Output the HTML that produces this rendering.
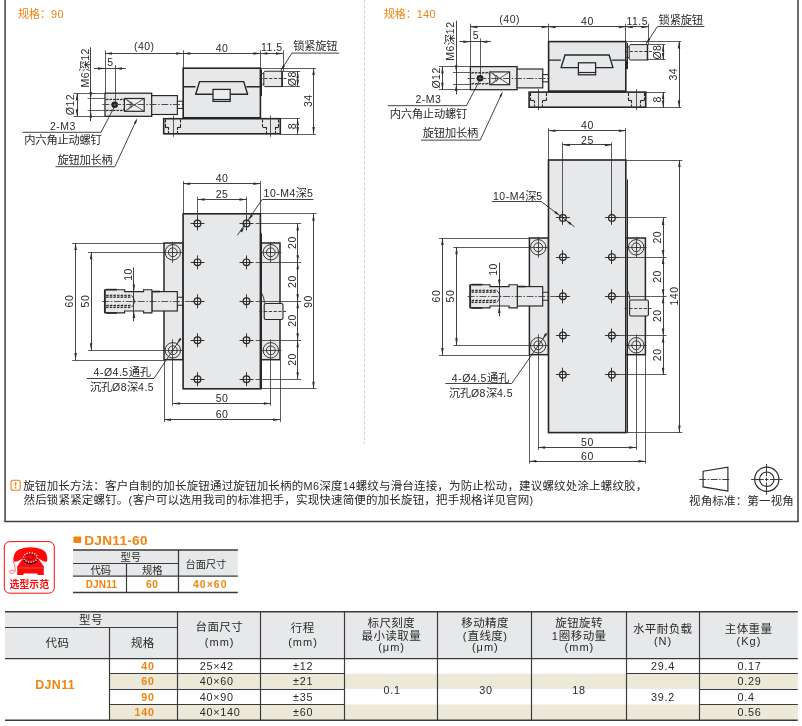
<!DOCTYPE html>
<html lang="zh-CN"><head><meta charset="utf-8"><title>DJN11</title>
<style>
html,body{margin:0;padding:0;background:#fff}
body{width:802px;height:726px;overflow:hidden;font-family:"Liberation Sans","Noto Sans CJK SC",sans-serif}
svg{display:block;will-change:transform}
svg text{font-family:"Liberation Sans","Noto Sans CJK SC",sans-serif}
</style></head><body>
<svg width="802" height="726" viewBox="0 0 802 726">
<path d="M5.1 0V521.5M798 0V521.5" fill="none" stroke="#655d5d" stroke-width="1.8"/>
<path d="M4.2 521.5H798.9" fill="none" stroke="#463e3e" stroke-width="1.4"/>
<line x1="364.5" y1="0" x2="364.5" y2="444" stroke="#c2c2c2" stroke-width="0.81" stroke-dasharray="3.2 2"/>
<g transform="translate(18 18.3)" fill="#f18410" aria-label="规格：90"><text x="0" y="0" font-size="11">规格：</text><text x="33" y="0" font-size="11" letter-spacing="0.3">90</text></g>
<g transform="translate(383.7 18.3)" fill="#f18410" aria-label="规格：140"><text x="0" y="0" font-size="11">规格：</text><text x="33" y="0" font-size="11" letter-spacing="0.3">140</text></g>
<rect x="105" y="93.2" width="46.7" height="23.1" fill="#e7e8ea" stroke="#262626" stroke-width="1.26"/>
<rect x="151.7" y="95.6" width="25.7" height="18.9" fill="#e7e8ea" stroke="#262626" stroke-width="1.15"/>
<rect x="177.4" y="101.2" width="5.8" height="7.2" fill="#fff" stroke="#262626" stroke-width="1.04"/>
<line x1="87.6" y1="98.5" x2="105" y2="98.5" stroke="#2e2e2e" stroke-width="0.78"/>
<line x1="87.6" y1="110.5" x2="105" y2="110.5" stroke="#2e2e2e" stroke-width="0.78"/>
<path d="M106 99.75l2.51 -0.7M109.48 99.75l2.51 -0.7M112.96 99.75l2.51 -0.7M116.44 99.75l2.51 -0.7M119.92 99.75l2.51 -0.7" fill="none" stroke="#262626" stroke-width="1.2"/>
<path d="M106 110.75l2.51 -0.7M109.48 110.75l2.51 -0.7M112.96 110.75l2.51 -0.7M116.44 110.75l2.51 -0.7M119.92 110.75l2.51 -0.7" fill="none" stroke="#262626" stroke-width="1.2"/>
<path d="M123.2 99.2L125.6 104.8 L123.2 110.6" fill="none" stroke="#2e2e2e" stroke-width="0.78"/>
<circle cx="114.7" cy="104.8" r="3.3" fill="#1d1d1d"/>
<circle cx="114.7" cy="104.8" r="1.2" fill="#6a6a6a"/>
<rect x="124.4" y="98.5" width="19.8" height="12.8" fill="#eeeff0" stroke="#262626" stroke-width="1.17"/>
<path d="M124.4 98.5L144.2 111.3M144.2 98.5L124.4 111.3" fill="none" stroke="#2e2e2e" stroke-width="0.78"/>
<path d="M127.5 99.5Q133.5 104.8 127.5 110.3M131 101.5Q133.4 104.8 131 108.2" fill="none" stroke="#2e2e2e" stroke-width="0.72"/>
<line x1="102.3" y1="104.5" x2="186" y2="104.5" stroke="#444" stroke-width="0.94" stroke-dasharray="7 1.6 1.6 1.6"/>
<line x1="90.5" y1="47.3" x2="90.5" y2="121" stroke="#2e2e2e" stroke-width="0.91"/>
<path d="M90.8 98.9L89.55 91.9L92.05 91.9Z" fill="#2e2e2e"/>
<path d="M90.8 110.7L92.05 117.7L89.55 117.7Z" fill="#2e2e2e"/>
<g transform="translate(88.9 68) rotate(-90)" fill="#2a2a2a" aria-label="M6深12"><text x="-19.41" y="0" font-size="10.5" letter-spacing="0.5">M6</text><text x="-3.82" y="0" font-size="11.3">深</text><text x="7.23" y="0" font-size="10.5" letter-spacing="0.5">12</text></g>
<line x1="73.5" y1="93.5" x2="105" y2="93.5" stroke="#2e2e2e" stroke-width="0.78"/>
<line x1="73.5" y1="116.5" x2="105" y2="116.5" stroke="#2e2e2e" stroke-width="0.78"/>
<line x1="77.5" y1="93.2" x2="77.5" y2="116.3" stroke="#2e2e2e" stroke-width="0.91"/>
<path d="M77 93.2L78.25 100.2L75.75 100.2Z" fill="#2e2e2e"/>
<path d="M77 116.3L75.75 109.3L78.25 109.3Z" fill="#2e2e2e"/>
<g transform="translate(74.2 104.8) rotate(-90)" fill="#2a2a2a"><text x="-10.42" y="0" font-size="10.5" letter-spacing="0.5">Ø12</text></g>
<line x1="105.5" y1="50.3" x2="105.5" y2="93.2" stroke="#2e2e2e" stroke-width="0.78"/>
<line x1="115.5" y1="65" x2="115.5" y2="104.8" stroke="#2e2e2e" stroke-width="0.78"/>
<line x1="94" y1="68.5" x2="125.7" y2="68.5" stroke="#2e2e2e" stroke-width="0.91"/>
<path d="M105 68.4L98 69.65L98 67.15Z" fill="#2e2e2e"/>
<path d="M115 68.4L122 67.15L122 69.65Z" fill="#2e2e2e"/>
<g transform="translate(110.2 65.8)" fill="#2a2a2a"><text x="-2.92" y="0" font-size="10.5" letter-spacing="0.5">5</text></g>
<line x1="105" y1="53.5" x2="183.2" y2="53.5" stroke="#2e2e2e" stroke-width="0.91"/>
<path d="M105 53.5L112 52.25L112 54.75Z" fill="#2e2e2e"/>
<path d="M183.2 53.5L176.2 54.75L176.2 52.25Z" fill="#2e2e2e"/>
<g transform="translate(144 49.9)" fill="#2a2a2a"><text x="-10.09" y="0" font-size="10.5" letter-spacing="0.5">(40)</text></g>
<path d="M114 107.5L101 132.3L22.5 132.3" fill="none" stroke="#2e2e2e" stroke-width="0.91"/>
<g transform="translate(50 130)" fill="#2a2a2a"><text x="0" y="0" font-size="10.5" letter-spacing="0.5">2-M3</text></g>
<g transform="translate(24.3 144.3)" fill="#2a2a2a" aria-label="内六角止动螺钉"><text x="0" y="0" font-size="11.3" letter-spacing="-0.25">内六角止动螺钉</text></g>
<path d="M136.5 120L114.8 166.7L55.5 166.7" fill="none" stroke="#2e2e2e" stroke-width="0.91"/>
<path d="M137.4 118L135.86 123.9L133.87 122.97Z" fill="#2e2e2e"/>
<g transform="translate(57.4 163.6)" fill="#2a2a2a" aria-label="旋钮加长柄"><text x="0" y="0" font-size="11.3" letter-spacing="-0.25">旋钮加长柄</text></g>
<line x1="183.5" y1="50.3" x2="183.5" y2="68" stroke="#2e2e2e" stroke-width="0.78"/>
<line x1="260.5" y1="50.3" x2="260.5" y2="68" stroke="#2e2e2e" stroke-width="0.78"/>
<rect x="183.2" y="68.2" width="77.2" height="49.6" fill="#e7e8ea" stroke="#262626" stroke-width="1.61"/>
<path d="M183.2 86.7H195.5M246.4 86.7H260.4" fill="none" stroke="#262626" stroke-width="1.38"/>
<path d="M195.7 94.2L199.6 81.6H243.7L247.6 94.2" fill="none" stroke="#262626" stroke-width="1.38" stroke-linejoin="miter"/>
<path d="M195.2 94.2H213M230.2 94.2H248.1" fill="none" stroke="#262626" stroke-width="1.38"/>
<rect x="213" y="89.4" width="17.2" height="12" fill="#ebecee" stroke="#262626" stroke-width="1.26"/>
<line x1="213" y1="99.5" x2="230.2" y2="99.5" stroke="#262626" stroke-width="1.17"/>
<line x1="183.2" y1="53.5" x2="260.4" y2="53.5" stroke="#2e2e2e" stroke-width="0.91"/>
<path d="M183.2 53.5L190.2 52.25L190.2 54.75Z" fill="#2e2e2e"/>
<path d="M260.4 53.5L253.4 54.75L253.4 52.25Z" fill="#2e2e2e"/>
<g transform="translate(221.8 51.9)" fill="#2a2a2a"><text x="-6.09" y="0" font-size="10.5" letter-spacing="0.5">40</text></g>
<rect x="163.7" y="118.7" width="116.6" height="15.1" fill="#e7e8ea" stroke="#262626" stroke-width="1.61"/>
<line x1="183.2" y1="118.2" x2="260.4" y2="118.2" stroke="#262626" stroke-width="1.84"/>
<line x1="173.5" y1="115.6" x2="173.5" y2="136.8" stroke="#2e2e2e" stroke-width="0.78"/>
<line x1="165.5" y1="119.6" x2="165.5" y2="127.3" stroke="#262626" stroke-width="1.1" stroke-dasharray="3 1.5"/>
<line x1="165.1" y1="127.5" x2="168.7" y2="127.5" stroke="#262626" stroke-width="1.1"/>
<line x1="168.5" y1="127.3" x2="168.5" y2="133.2" stroke="#262626" stroke-width="1.1" stroke-dasharray="2.6 1.2"/>
<line x1="180.5" y1="119.6" x2="180.5" y2="127.3" stroke="#262626" stroke-width="1.1" stroke-dasharray="3 1.5"/>
<line x1="180.9" y1="127.5" x2="177.3" y2="127.5" stroke="#262626" stroke-width="1.1"/>
<line x1="177.5" y1="127.3" x2="177.5" y2="133.2" stroke="#262626" stroke-width="1.1" stroke-dasharray="2.6 1.2"/>
<line x1="270.5" y1="115.6" x2="270.5" y2="136.8" stroke="#2e2e2e" stroke-width="0.78"/>
<line x1="262.5" y1="119.6" x2="262.5" y2="127.3" stroke="#262626" stroke-width="1.1" stroke-dasharray="3 1.5"/>
<line x1="262.8" y1="127.5" x2="266.4" y2="127.5" stroke="#262626" stroke-width="1.1"/>
<line x1="266.5" y1="127.3" x2="266.5" y2="133.2" stroke="#262626" stroke-width="1.1" stroke-dasharray="2.6 1.2"/>
<line x1="278.5" y1="119.6" x2="278.5" y2="127.3" stroke="#262626" stroke-width="1.1" stroke-dasharray="3 1.5"/>
<line x1="278.6" y1="127.5" x2="275" y2="127.5" stroke="#262626" stroke-width="1.1"/>
<line x1="275.5" y1="127.3" x2="275.5" y2="133.2" stroke="#262626" stroke-width="1.1" stroke-dasharray="2.6 1.2"/>
<line x1="261.5" y1="69.5" x2="261.5" y2="95.7" stroke="#262626" stroke-width="1.04"/>
<line x1="260.9" y1="87" x2="260.9" y2="95.7" stroke="#262626" stroke-width="1.38"/>
<path d="M260.4 73.6H263.8M260.4 84.2H263.8" fill="none" stroke="#2e2e2e" stroke-width="0.91"/>
<path d="M264.8 71.2H282.1V86.6H264.8L263.8 85.6V72.2Z" fill="#e7e8ea" stroke="#262626" stroke-width="1"/>
<line x1="282.1" y1="70.8" x2="282.1" y2="87" stroke="#262626" stroke-width="1.49"/>
<line x1="259.5" y1="78.5" x2="286.5" y2="78.5" stroke="#2e2e2e" stroke-width="0.91" stroke-dasharray="3.2 1.6"/>
<line x1="283.5" y1="50.3" x2="283.5" y2="71.2" stroke="#2e2e2e" stroke-width="0.78"/>
<line x1="260.4" y1="53.5" x2="283" y2="53.5" stroke="#2e2e2e" stroke-width="0.91"/>
<path d="M260.4 53.5L267.4 52.25L267.4 54.75Z" fill="#2e2e2e"/>
<path d="M283 53.5L276 54.75L276 52.25Z" fill="#2e2e2e"/>
<g transform="translate(272 51.4)" fill="#2a2a2a"><text x="-10.97" y="0" font-size="10.5" letter-spacing="0.5">11.5</text></g>
<path d="M339 53.1H292L280.8 70.4" fill="none" stroke="#2e2e2e" stroke-width="0.91"/>
<path d="M280.8 70.4L283.05 64.71L285.07 66.02Z" fill="#2e2e2e"/>
<g transform="translate(293.2 50.4)" fill="#2a2a2a" aria-label="锁紧旋钮"><text x="0" y="0" font-size="11.3" letter-spacing="-0.25">锁紧旋钮</text></g>
<line x1="282.1" y1="71.5" x2="300" y2="71.5" stroke="#2e2e2e" stroke-width="0.78"/>
<line x1="282.1" y1="86.5" x2="300" y2="86.5" stroke="#2e2e2e" stroke-width="0.78"/>
<line x1="297.5" y1="71.2" x2="297.5" y2="86.6" stroke="#2e2e2e" stroke-width="0.91"/>
<path d="M297.7 71.2L298.95 78.2L296.45 78.2Z" fill="#2e2e2e"/>
<path d="M297.7 86.6L296.45 79.6L298.95 79.6Z" fill="#2e2e2e"/>
<g transform="translate(295.9 78.9) rotate(-90)" fill="#2a2a2a"><text x="-7.25" y="0" font-size="10.5" letter-spacing="0.5">Ø8</text></g>
<line x1="260.4" y1="68.5" x2="315.8" y2="68.5" stroke="#2e2e2e" stroke-width="0.78"/>
<line x1="280.3" y1="134.5" x2="315.8" y2="134.5" stroke="#2e2e2e" stroke-width="0.78"/>
<line x1="313.5" y1="68" x2="313.5" y2="134.1" stroke="#2e2e2e" stroke-width="0.91"/>
<path d="M313.6 68L314.85 75L312.35 75Z" fill="#2e2e2e"/>
<path d="M313.6 134.1L312.35 127.1L314.85 127.1Z" fill="#2e2e2e"/>
<g transform="translate(311.7 101) rotate(-90)" fill="#2a2a2a"><text x="-6.09" y="0" font-size="10.5" letter-spacing="0.5">34</text></g>
<line x1="280.3" y1="118.5" x2="300" y2="118.5" stroke="#2e2e2e" stroke-width="0.78"/>
<line x1="297.5" y1="118.6" x2="297.5" y2="134.1" stroke="#2e2e2e" stroke-width="0.91"/>
<path d="M297.7 118.6L298.95 125.6L296.45 125.6Z" fill="#2e2e2e"/>
<path d="M297.7 134.1L296.45 127.1L298.95 127.1Z" fill="#2e2e2e"/>
<g transform="translate(295.9 126.3) rotate(-90)" fill="#2a2a2a"><text x="-2.92" y="0" font-size="10.5" letter-spacing="0.5">8</text></g>
<g transform="translate(365.4 -26.6)">
<rect x="105" y="93.2" width="46.7" height="23.1" fill="#e7e8ea" stroke="#262626" stroke-width="1.26"/>
<rect x="151.7" y="95.6" width="25.7" height="18.9" fill="#e7e8ea" stroke="#262626" stroke-width="1.15"/>
<rect x="177.4" y="101.2" width="5.8" height="7.2" fill="#fff" stroke="#262626" stroke-width="1.04"/>
<line x1="87.6" y1="99.1" x2="105" y2="99.1" stroke="#2e2e2e" stroke-width="0.78"/>
<line x1="87.6" y1="111.1" x2="105" y2="111.1" stroke="#2e2e2e" stroke-width="0.78"/>
<path d="M106 99.75l2.51 -0.7M109.48 99.75l2.51 -0.7M112.96 99.75l2.51 -0.7M116.44 99.75l2.51 -0.7M119.92 99.75l2.51 -0.7" fill="none" stroke="#262626" stroke-width="1.2"/>
<path d="M106 110.75l2.51 -0.7M109.48 110.75l2.51 -0.7M112.96 110.75l2.51 -0.7M116.44 110.75l2.51 -0.7M119.92 110.75l2.51 -0.7" fill="none" stroke="#262626" stroke-width="1.2"/>
<path d="M123.2 99.2L125.6 104.8 L123.2 110.6" fill="none" stroke="#2e2e2e" stroke-width="0.78"/>
<circle cx="114.7" cy="104.8" r="3.3" fill="#1d1d1d"/>
<circle cx="114.7" cy="104.8" r="1.2" fill="#6a6a6a"/>
<rect x="124.4" y="98.5" width="19.8" height="12.8" fill="#eeeff0" stroke="#262626" stroke-width="1.17"/>
<path d="M124.4 98.5L144.2 111.3M144.2 98.5L124.4 111.3" fill="none" stroke="#2e2e2e" stroke-width="0.78"/>
<path d="M127.5 99.5Q133.5 104.8 127.5 110.3M131 101.5Q133.4 104.8 131 108.2" fill="none" stroke="#2e2e2e" stroke-width="0.72"/>
<line x1="102.3" y1="105.1" x2="186" y2="105.1" stroke="#444" stroke-width="0.94" stroke-dasharray="7 1.6 1.6 1.6"/>
<line x1="91.1" y1="47.3" x2="91.1" y2="121" stroke="#2e2e2e" stroke-width="0.91"/>
<path d="M90.8 98.9L89.55 91.9L92.05 91.9Z" fill="#2e2e2e"/>
<path d="M90.8 110.7L92.05 117.7L89.55 117.7Z" fill="#2e2e2e"/>
<g transform="translate(88.9 68) rotate(-90)" fill="#2a2a2a" aria-label="M6深12"><text x="-19.41" y="0" font-size="10.5" letter-spacing="0.5">M6</text><text x="-3.82" y="0" font-size="11.3">深</text><text x="7.23" y="0" font-size="10.5" letter-spacing="0.5">12</text></g>
<line x1="73.5" y1="93.1" x2="105" y2="93.1" stroke="#2e2e2e" stroke-width="0.78"/>
<line x1="73.5" y1="116.1" x2="105" y2="116.1" stroke="#2e2e2e" stroke-width="0.78"/>
<line x1="77.1" y1="93.2" x2="77.1" y2="116.3" stroke="#2e2e2e" stroke-width="0.91"/>
<path d="M77 93.2L78.25 100.2L75.75 100.2Z" fill="#2e2e2e"/>
<path d="M77 116.3L75.75 109.3L78.25 109.3Z" fill="#2e2e2e"/>
<g transform="translate(74.2 104.8) rotate(-90)" fill="#2a2a2a"><text x="-10.42" y="0" font-size="10.5" letter-spacing="0.5">Ø12</text></g>
<line x1="105.1" y1="50.3" x2="105.1" y2="93.2" stroke="#2e2e2e" stroke-width="0.78"/>
<line x1="115.1" y1="65" x2="115.1" y2="104.8" stroke="#2e2e2e" stroke-width="0.78"/>
<line x1="94" y1="68.1" x2="125.7" y2="68.1" stroke="#2e2e2e" stroke-width="0.91"/>
<path d="M105 68.4L98 69.65L98 67.15Z" fill="#2e2e2e"/>
<path d="M115 68.4L122 67.15L122 69.65Z" fill="#2e2e2e"/>
<g transform="translate(110.2 65.8)" fill="#2a2a2a"><text x="-2.92" y="0" font-size="10.5" letter-spacing="0.5">5</text></g>
<line x1="105" y1="53.1" x2="183.2" y2="53.1" stroke="#2e2e2e" stroke-width="0.91"/>
<path d="M105 53.5L112 52.25L112 54.75Z" fill="#2e2e2e"/>
<path d="M183.2 53.5L176.2 54.75L176.2 52.25Z" fill="#2e2e2e"/>
<g transform="translate(144 49.9)" fill="#2a2a2a"><text x="-10.09" y="0" font-size="10.5" letter-spacing="0.5">(40)</text></g>
<path d="M114 107.5L101 132.3L22.5 132.3" fill="none" stroke="#2e2e2e" stroke-width="0.91"/>
<g transform="translate(50 130)" fill="#2a2a2a"><text x="0" y="0" font-size="10.5" letter-spacing="0.5">2-M3</text></g>
<g transform="translate(24.3 144.3)" fill="#2a2a2a" aria-label="内六角止动螺钉"><text x="0" y="0" font-size="11.3" letter-spacing="-0.25">内六角止动螺钉</text></g>
<path d="M136.5 120L114.8 166.7L55.5 166.7" fill="none" stroke="#2e2e2e" stroke-width="0.91"/>
<path d="M137.4 118L135.86 123.9L133.87 122.97Z" fill="#2e2e2e"/>
<g transform="translate(57.4 163.6)" fill="#2a2a2a" aria-label="旋钮加长柄"><text x="0" y="0" font-size="11.3" letter-spacing="-0.25">旋钮加长柄</text></g>
<line x1="183.1" y1="50.3" x2="183.1" y2="68" stroke="#2e2e2e" stroke-width="0.78"/>
<line x1="260.1" y1="50.3" x2="260.1" y2="68" stroke="#2e2e2e" stroke-width="0.78"/>
<rect x="183.2" y="68.2" width="77.2" height="49.6" fill="#e7e8ea" stroke="#262626" stroke-width="1.61"/>
<path d="M183.2 86.7H195.5M246.4 86.7H260.4" fill="none" stroke="#262626" stroke-width="1.38"/>
<path d="M195.7 94.2L199.6 81.6H243.7L247.6 94.2" fill="none" stroke="#262626" stroke-width="1.38" stroke-linejoin="miter"/>
<path d="M195.2 94.2H213M230.2 94.2H248.1" fill="none" stroke="#262626" stroke-width="1.38"/>
<rect x="213" y="89.4" width="17.2" height="12" fill="#ebecee" stroke="#262626" stroke-width="1.26"/>
<line x1="213" y1="99.1" x2="230.2" y2="99.1" stroke="#262626" stroke-width="1.17"/>
<line x1="183.2" y1="53.1" x2="260.4" y2="53.1" stroke="#2e2e2e" stroke-width="0.91"/>
<path d="M183.2 53.5L190.2 52.25L190.2 54.75Z" fill="#2e2e2e"/>
<path d="M260.4 53.5L253.4 54.75L253.4 52.25Z" fill="#2e2e2e"/>
<g transform="translate(221.8 51.9)" fill="#2a2a2a"><text x="-6.09" y="0" font-size="10.5" letter-spacing="0.5">40</text></g>
<rect x="163.7" y="118.7" width="116.6" height="15.1" fill="#e7e8ea" stroke="#262626" stroke-width="1.61"/>
<line x1="183.2" y1="118.2" x2="260.4" y2="118.2" stroke="#262626" stroke-width="1.84"/>
<line x1="173.1" y1="115.6" x2="173.1" y2="136.8" stroke="#2e2e2e" stroke-width="0.78"/>
<line x1="165.1" y1="119.6" x2="165.1" y2="127.3" stroke="#262626" stroke-width="1.1" stroke-dasharray="3 1.5"/>
<line x1="165.1" y1="127.1" x2="168.7" y2="127.1" stroke="#262626" stroke-width="1.1"/>
<line x1="169.1" y1="127.3" x2="169.1" y2="133.2" stroke="#262626" stroke-width="1.1" stroke-dasharray="2.6 1.2"/>
<line x1="181.1" y1="119.6" x2="181.1" y2="127.3" stroke="#262626" stroke-width="1.1" stroke-dasharray="3 1.5"/>
<line x1="180.9" y1="127.1" x2="177.3" y2="127.1" stroke="#262626" stroke-width="1.1"/>
<line x1="177.1" y1="127.3" x2="177.1" y2="133.2" stroke="#262626" stroke-width="1.1" stroke-dasharray="2.6 1.2"/>
<line x1="271.1" y1="115.6" x2="271.1" y2="136.8" stroke="#2e2e2e" stroke-width="0.78"/>
<line x1="263.1" y1="119.6" x2="263.1" y2="127.3" stroke="#262626" stroke-width="1.1" stroke-dasharray="3 1.5"/>
<line x1="262.8" y1="127.1" x2="266.4" y2="127.1" stroke="#262626" stroke-width="1.1"/>
<line x1="266.1" y1="127.3" x2="266.1" y2="133.2" stroke="#262626" stroke-width="1.1" stroke-dasharray="2.6 1.2"/>
<line x1="279.1" y1="119.6" x2="279.1" y2="127.3" stroke="#262626" stroke-width="1.1" stroke-dasharray="3 1.5"/>
<line x1="278.6" y1="127.1" x2="275" y2="127.1" stroke="#262626" stroke-width="1.1"/>
<line x1="275.1" y1="127.3" x2="275.1" y2="133.2" stroke="#262626" stroke-width="1.1" stroke-dasharray="2.6 1.2"/>
<line x1="262.1" y1="69.5" x2="262.1" y2="95.7" stroke="#262626" stroke-width="1.04"/>
<line x1="260.9" y1="87" x2="260.9" y2="95.7" stroke="#262626" stroke-width="1.38"/>
<path d="M260.4 73.6H263.8M260.4 84.2H263.8" fill="none" stroke="#2e2e2e" stroke-width="0.91"/>
<path d="M264.8 71.2H282.1V86.6H264.8L263.8 85.6V72.2Z" fill="#e7e8ea" stroke="#262626" stroke-width="1"/>
<line x1="282.1" y1="70.8" x2="282.1" y2="87" stroke="#262626" stroke-width="1.49"/>
<line x1="259.5" y1="78.1" x2="286.5" y2="78.1" stroke="#2e2e2e" stroke-width="0.91" stroke-dasharray="3.2 1.6"/>
<line x1="283.1" y1="50.3" x2="283.1" y2="71.2" stroke="#2e2e2e" stroke-width="0.78"/>
<line x1="260.4" y1="53.1" x2="283" y2="53.1" stroke="#2e2e2e" stroke-width="0.91"/>
<path d="M260.4 53.5L267.4 52.25L267.4 54.75Z" fill="#2e2e2e"/>
<path d="M283 53.5L276 54.75L276 52.25Z" fill="#2e2e2e"/>
<g transform="translate(272 51.4)" fill="#2a2a2a"><text x="-10.97" y="0" font-size="10.5" letter-spacing="0.5">11.5</text></g>
<path d="M339 53.1H292L280.8 70.4" fill="none" stroke="#2e2e2e" stroke-width="0.91"/>
<path d="M280.8 70.4L283.05 64.71L285.07 66.02Z" fill="#2e2e2e"/>
<g transform="translate(293.2 50.4)" fill="#2a2a2a" aria-label="锁紧旋钮"><text x="0" y="0" font-size="11.3" letter-spacing="-0.25">锁紧旋钮</text></g>
<line x1="282.1" y1="71.1" x2="300" y2="71.1" stroke="#2e2e2e" stroke-width="0.78"/>
<line x1="282.1" y1="86.1" x2="300" y2="86.1" stroke="#2e2e2e" stroke-width="0.78"/>
<line x1="298.1" y1="71.2" x2="298.1" y2="86.6" stroke="#2e2e2e" stroke-width="0.91"/>
<path d="M297.7 71.2L298.95 78.2L296.45 78.2Z" fill="#2e2e2e"/>
<path d="M297.7 86.6L296.45 79.6L298.95 79.6Z" fill="#2e2e2e"/>
<g transform="translate(295.9 78.9) rotate(-90)" fill="#2a2a2a"><text x="-7.25" y="0" font-size="10.5" letter-spacing="0.5">Ø8</text></g>
<line x1="260.4" y1="68.1" x2="315.8" y2="68.1" stroke="#2e2e2e" stroke-width="0.78"/>
<line x1="280.3" y1="134.1" x2="315.8" y2="134.1" stroke="#2e2e2e" stroke-width="0.78"/>
<line x1="314.1" y1="68" x2="314.1" y2="134.1" stroke="#2e2e2e" stroke-width="0.91"/>
<path d="M313.6 68L314.85 75L312.35 75Z" fill="#2e2e2e"/>
<path d="M313.6 134.1L312.35 127.1L314.85 127.1Z" fill="#2e2e2e"/>
<g transform="translate(311.7 101) rotate(-90)" fill="#2a2a2a"><text x="-6.09" y="0" font-size="10.5" letter-spacing="0.5">34</text></g>
<line x1="280.3" y1="119.1" x2="300" y2="119.1" stroke="#2e2e2e" stroke-width="0.78"/>
<line x1="298.1" y1="118.6" x2="298.1" y2="134.1" stroke="#2e2e2e" stroke-width="0.91"/>
<path d="M297.7 118.6L298.95 125.6L296.45 125.6Z" fill="#2e2e2e"/>
<path d="M297.7 134.1L296.45 127.1L298.95 127.1Z" fill="#2e2e2e"/>
<g transform="translate(295.9 126.3) rotate(-90)" fill="#2a2a2a"><text x="-2.92" y="0" font-size="10.5" letter-spacing="0.5">8</text></g>
</g>
<rect x="164" y="243" width="19.1" height="116.7" fill="#e7e8ea" stroke="#262626" stroke-width="1.49"/>
<rect x="259" y="243" width="21" height="116.7" fill="#e7e8ea" stroke="#262626" stroke-width="1.49"/>
<rect x="183.1" y="213.8" width="77.3" height="175" fill="#e7e8ea" stroke="#262626" stroke-width="1.61"/>
<line x1="261.5" y1="233.3" x2="261.5" y2="389.3" stroke="#262626" stroke-width="1.04"/>
<rect x="151.9" y="291.6" width="25.4" height="19.4" fill="#e7e8ea" stroke="#262626" stroke-width="1.15"/>
<path d="M104.8 289.7L124.6 289.7L124.6 291.6L143.6 291.6L143.6 289.7L151.9 289.7L151.9 312.9L143.6 312.9L143.6 311L124.6 311L124.6 312.9L104.8 312.9Z" fill="#e7e8ea" stroke="#262626" stroke-width="1.15" stroke-linejoin="miter"/>
<line x1="104.8" y1="289.7" x2="104.8" y2="312.9" stroke="#262626" stroke-width="1.72"/>
<line x1="106" y1="289.6" x2="117" y2="289.6" stroke="#262626" stroke-width="1.61"/>
<line x1="106" y1="313" x2="117" y2="313" stroke="#262626" stroke-width="1.61"/>
<line x1="153" y1="291.5" x2="160" y2="291.5" stroke="#262626" stroke-width="1.61"/>
<path d="M177.3 297.3H183.1M177.3 305.3H183.1" fill="none" stroke="#262626" stroke-width="1.04"/>
<path d="M106.2 295.6l2.53 -0.6M109.81 295.6l2.53 -0.6M113.43 295.6l2.53 -0.6M117.04 295.6l2.53 -0.6M120.66 295.6l2.53 -0.6M124.27 295.6l2.53 -0.6M127.89 295.6l2.53 -0.6" fill="none" stroke="#262626" stroke-width="1.2"/>
<path d="M106.2 297.4l2.53 -0.6M109.81 297.4l2.53 -0.6M113.43 297.4l2.53 -0.6M117.04 297.4l2.53 -0.6M120.66 297.4l2.53 -0.6M124.27 297.4l2.53 -0.6M127.89 297.4l2.53 -0.6" fill="none" stroke="#262626" stroke-width="1.2"/>
<path d="M106.2 305.8l2.53 -0.6M109.81 305.8l2.53 -0.6M113.43 305.8l2.53 -0.6M117.04 305.8l2.53 -0.6M120.66 305.8l2.53 -0.6M124.27 305.8l2.53 -0.6M127.89 305.8l2.53 -0.6" fill="none" stroke="#262626" stroke-width="1.2"/>
<path d="M106.2 307.6l2.53 -0.6M109.81 307.6l2.53 -0.6M113.43 307.6l2.53 -0.6M117.04 307.6l2.53 -0.6M120.66 307.6l2.53 -0.6M124.27 307.6l2.53 -0.6M127.89 307.6l2.53 -0.6" fill="none" stroke="#262626" stroke-width="1.2"/>
<path d="M131.5 295.4Q134.3 298.3 134.6 301.3Q134.3 304.3 131.5 307.2" fill="none" stroke="#2e2e2e" stroke-width="0.91"/>
<line x1="102.2" y1="301.5" x2="190.5" y2="301.5" stroke="#2e2e2e" stroke-width="0.78" stroke-dasharray="7 1.6 1.6 1.6"/>
<line x1="133.5" y1="267.5" x2="133.5" y2="321.3" stroke="#2e2e2e" stroke-width="0.91"/>
<path d="M133.9 291.6L132.65 284.6L135.15 284.6Z" fill="#2e2e2e"/>
<path d="M133.9 311L135.15 318L132.65 318Z" fill="#2e2e2e"/>
<g transform="translate(131.9 274.7) rotate(-90)" fill="#2a2a2a"><text x="-6.09" y="0" font-size="10.5" letter-spacing="0.5">10</text></g>
<circle cx="197.5" cy="223.4" r="3.35" fill="none" stroke="#262626" stroke-width="1.24"/>
<line x1="190.5" y1="223.5" x2="204.5" y2="223.5" stroke="#262626" stroke-width="0.94"/>
<line x1="197.5" y1="216.4" x2="197.5" y2="230.4" stroke="#262626" stroke-width="0.94"/>
<circle cx="246.5" cy="223.4" r="3.35" fill="none" stroke="#262626" stroke-width="1.24"/>
<line x1="239.5" y1="223.5" x2="253.5" y2="223.5" stroke="#262626" stroke-width="0.94"/>
<line x1="246.5" y1="216.4" x2="246.5" y2="230.4" stroke="#262626" stroke-width="0.94"/>
<circle cx="197.5" cy="262.35" r="3.35" fill="none" stroke="#262626" stroke-width="1.24"/>
<line x1="190.5" y1="262.5" x2="204.5" y2="262.5" stroke="#262626" stroke-width="0.94"/>
<line x1="197.5" y1="255.35" x2="197.5" y2="269.35" stroke="#262626" stroke-width="0.94"/>
<circle cx="246.5" cy="262.35" r="3.35" fill="none" stroke="#262626" stroke-width="1.24"/>
<line x1="239.5" y1="262.5" x2="253.5" y2="262.5" stroke="#262626" stroke-width="0.94"/>
<line x1="246.5" y1="255.35" x2="246.5" y2="269.35" stroke="#262626" stroke-width="0.94"/>
<circle cx="197.5" cy="301.3" r="3.35" fill="none" stroke="#262626" stroke-width="1.24"/>
<line x1="190.5" y1="301.5" x2="204.5" y2="301.5" stroke="#262626" stroke-width="0.94"/>
<line x1="197.5" y1="294.3" x2="197.5" y2="308.3" stroke="#262626" stroke-width="0.94"/>
<circle cx="246.5" cy="301.3" r="3.35" fill="none" stroke="#262626" stroke-width="1.24"/>
<line x1="239.5" y1="301.5" x2="253.5" y2="301.5" stroke="#262626" stroke-width="0.94"/>
<line x1="246.5" y1="294.3" x2="246.5" y2="308.3" stroke="#262626" stroke-width="0.94"/>
<circle cx="197.5" cy="340.25" r="3.35" fill="none" stroke="#262626" stroke-width="1.24"/>
<line x1="190.5" y1="340.5" x2="204.5" y2="340.5" stroke="#262626" stroke-width="0.94"/>
<line x1="197.5" y1="333.25" x2="197.5" y2="347.25" stroke="#262626" stroke-width="0.94"/>
<circle cx="246.5" cy="340.25" r="3.35" fill="none" stroke="#262626" stroke-width="1.24"/>
<line x1="239.5" y1="340.5" x2="253.5" y2="340.5" stroke="#262626" stroke-width="0.94"/>
<line x1="246.5" y1="333.25" x2="246.5" y2="347.25" stroke="#262626" stroke-width="0.94"/>
<circle cx="197.5" cy="379.2" r="3.35" fill="none" stroke="#262626" stroke-width="1.24"/>
<line x1="190.5" y1="379.5" x2="204.5" y2="379.5" stroke="#262626" stroke-width="0.94"/>
<line x1="197.5" y1="372.2" x2="197.5" y2="386.2" stroke="#262626" stroke-width="0.94"/>
<circle cx="246.5" cy="379.2" r="3.35" fill="none" stroke="#262626" stroke-width="1.24"/>
<line x1="239.5" y1="379.5" x2="253.5" y2="379.5" stroke="#262626" stroke-width="0.94"/>
<line x1="246.5" y1="372.2" x2="246.5" y2="386.2" stroke="#262626" stroke-width="0.94"/>
<circle cx="172.8" cy="252.3" r="7.7" fill="none" stroke="#262626" stroke-width="0.91"/>
<circle cx="172.8" cy="252.3" r="4.4" fill="none" stroke="#262626" stroke-width="0.91"/>
<line x1="170.6" y1="252.5" x2="175" y2="252.5" stroke="#2e2e2e" stroke-width="0.65"/>
<line x1="172.5" y1="250.1" x2="172.5" y2="254.5" stroke="#2e2e2e" stroke-width="0.65"/>
<circle cx="172.8" cy="350.3" r="7.7" fill="none" stroke="#262626" stroke-width="0.91"/>
<circle cx="172.8" cy="350.3" r="4.4" fill="none" stroke="#262626" stroke-width="0.91"/>
<line x1="170.6" y1="350.5" x2="175" y2="350.5" stroke="#2e2e2e" stroke-width="0.65"/>
<line x1="172.5" y1="348.1" x2="172.5" y2="352.5" stroke="#2e2e2e" stroke-width="0.65"/>
<circle cx="270.8" cy="252.3" r="7.7" fill="none" stroke="#262626" stroke-width="0.91"/>
<circle cx="270.8" cy="252.3" r="4.4" fill="none" stroke="#262626" stroke-width="0.91"/>
<line x1="268.6" y1="252.5" x2="273" y2="252.5" stroke="#2e2e2e" stroke-width="0.65"/>
<line x1="270.5" y1="250.1" x2="270.5" y2="254.5" stroke="#2e2e2e" stroke-width="0.65"/>
<circle cx="270.8" cy="350.3" r="7.7" fill="none" stroke="#262626" stroke-width="0.91"/>
<circle cx="270.8" cy="350.3" r="4.4" fill="none" stroke="#262626" stroke-width="0.91"/>
<line x1="268.6" y1="350.5" x2="273" y2="350.5" stroke="#2e2e2e" stroke-width="0.65"/>
<line x1="270.5" y1="348.1" x2="270.5" y2="352.5" stroke="#2e2e2e" stroke-width="0.65"/>
<path d="M261.9 293.5Q264.3 297.5 264.4 303.2" fill="none" stroke="#262626" stroke-width="0.91"/>
<rect x="264.2" y="303.5" width="18.8" height="16" rx="1.6" fill="#e7e8ea" stroke="#262626" stroke-width="1.1"/>
<line x1="259.2" y1="311.5" x2="286" y2="311.5" stroke="#2e2e2e" stroke-width="0.91" stroke-dasharray="3.2 1.6"/>
<line x1="183.5" y1="181.1" x2="183.5" y2="213.8" stroke="#2e2e2e" stroke-width="0.78"/>
<line x1="260.5" y1="181.1" x2="260.5" y2="213.8" stroke="#2e2e2e" stroke-width="0.78"/>
<line x1="183.1" y1="183.5" x2="260.4" y2="183.5" stroke="#2e2e2e" stroke-width="0.91"/>
<path d="M183.1 183.7L190.1 182.45L190.1 184.95Z" fill="#2e2e2e"/>
<path d="M260.4 183.7L253.4 184.95L253.4 182.45Z" fill="#2e2e2e"/>
<g transform="translate(221.8 182.4)" fill="#2a2a2a"><text x="-6.09" y="0" font-size="10.5" letter-spacing="0.5">40</text></g>
<line x1="197.5" y1="196.8" x2="197.5" y2="223.4" stroke="#2e2e2e" stroke-width="0.78"/>
<line x1="246.5" y1="196.8" x2="246.5" y2="223.4" stroke="#2e2e2e" stroke-width="0.78"/>
<line x1="197.5" y1="199.5" x2="246.5" y2="199.5" stroke="#2e2e2e" stroke-width="0.91"/>
<path d="M197.5 199.4L204.5 198.15L204.5 200.65Z" fill="#2e2e2e"/>
<path d="M246.5 199.4L239.5 200.65L239.5 198.15Z" fill="#2e2e2e"/>
<g transform="translate(221.8 198.1)" fill="#2a2a2a"><text x="-6.09" y="0" font-size="10.5" letter-spacing="0.5">25</text></g>
<line x1="255.6" y1="223.5" x2="301.2" y2="223.5" stroke="#2e2e2e" stroke-width="0.78"/>
<line x1="255.6" y1="262.5" x2="301.2" y2="262.5" stroke="#2e2e2e" stroke-width="0.78"/>
<line x1="255.6" y1="301.5" x2="301.2" y2="301.5" stroke="#2e2e2e" stroke-width="0.78"/>
<line x1="255.6" y1="340.5" x2="301.2" y2="340.5" stroke="#2e2e2e" stroke-width="0.78"/>
<line x1="255.6" y1="379.5" x2="301.2" y2="379.5" stroke="#2e2e2e" stroke-width="0.78"/>
<line x1="297.5" y1="223.4" x2="297.5" y2="262.35" stroke="#2e2e2e" stroke-width="0.91"/>
<path d="M297.7 223.4L298.95 230.4L296.45 230.4Z" fill="#2e2e2e"/>
<path d="M297.7 262.35L296.45 255.35L298.95 255.35Z" fill="#2e2e2e"/>
<g transform="translate(295.9 242.88) rotate(-90)" fill="#2a2a2a"><text x="-6.09" y="0" font-size="10.5" letter-spacing="0.5">20</text></g>
<line x1="297.5" y1="262.35" x2="297.5" y2="301.3" stroke="#2e2e2e" stroke-width="0.91"/>
<path d="M297.7 262.35L298.95 269.35L296.45 269.35Z" fill="#2e2e2e"/>
<path d="M297.7 301.3L296.45 294.3L298.95 294.3Z" fill="#2e2e2e"/>
<g transform="translate(295.9 281.83) rotate(-90)" fill="#2a2a2a"><text x="-6.09" y="0" font-size="10.5" letter-spacing="0.5">20</text></g>
<line x1="297.5" y1="301.3" x2="297.5" y2="340.25" stroke="#2e2e2e" stroke-width="0.91"/>
<path d="M297.7 301.3L298.95 308.3L296.45 308.3Z" fill="#2e2e2e"/>
<path d="M297.7 340.25L296.45 333.25L298.95 333.25Z" fill="#2e2e2e"/>
<g transform="translate(295.9 320.77) rotate(-90)" fill="#2a2a2a"><text x="-6.09" y="0" font-size="10.5" letter-spacing="0.5">20</text></g>
<line x1="297.5" y1="340.25" x2="297.5" y2="379.2" stroke="#2e2e2e" stroke-width="0.91"/>
<path d="M297.7 340.25L298.95 347.25L296.45 347.25Z" fill="#2e2e2e"/>
<path d="M297.7 379.2L296.45 372.2L298.95 372.2Z" fill="#2e2e2e"/>
<g transform="translate(295.9 359.73) rotate(-90)" fill="#2a2a2a"><text x="-6.09" y="0" font-size="10.5" letter-spacing="0.5">20</text></g>
<line x1="260.4" y1="213.5" x2="316.5" y2="213.5" stroke="#2e2e2e" stroke-width="0.78"/>
<line x1="260.4" y1="388.5" x2="316.5" y2="388.5" stroke="#2e2e2e" stroke-width="0.78"/>
<line x1="313.5" y1="213.8" x2="313.5" y2="388.8" stroke="#2e2e2e" stroke-width="0.91"/>
<path d="M313.5 213.8L314.75 220.8L312.25 220.8Z" fill="#2e2e2e"/>
<path d="M313.5 388.8L312.25 381.8L314.75 381.8Z" fill="#2e2e2e"/>
<g transform="translate(311.6 301.7) rotate(-90)" fill="#2a2a2a"><text x="-6.09" y="0" font-size="10.5" letter-spacing="0.5">90</text></g>
<line x1="172.5" y1="339.3" x2="172.5" y2="405.8" stroke="#2e2e2e" stroke-width="0.78"/>
<line x1="270.5" y1="339.3" x2="270.5" y2="405.8" stroke="#2e2e2e" stroke-width="0.78"/>
<line x1="172.8" y1="403.5" x2="270.8" y2="403.5" stroke="#2e2e2e" stroke-width="0.91"/>
<path d="M172.8 403.4L179.8 402.15L179.8 404.65Z" fill="#2e2e2e"/>
<path d="M270.8 403.4L263.8 404.65L263.8 402.15Z" fill="#2e2e2e"/>
<g transform="translate(221.8 402.1)" fill="#2a2a2a"><text x="-6.09" y="0" font-size="10.5" letter-spacing="0.5">50</text></g>
<line x1="164.5" y1="359.7" x2="164.5" y2="422.1" stroke="#2e2e2e" stroke-width="0.78"/>
<line x1="280.5" y1="359.7" x2="280.5" y2="422.1" stroke="#2e2e2e" stroke-width="0.78"/>
<line x1="164" y1="419.5" x2="280" y2="419.5" stroke="#2e2e2e" stroke-width="0.91"/>
<path d="M164 419.7L171 418.45L171 420.95Z" fill="#2e2e2e"/>
<path d="M280 419.7L273 420.95L273 418.45Z" fill="#2e2e2e"/>
<g transform="translate(221.8 418.4)" fill="#2a2a2a"><text x="-6.09" y="0" font-size="10.5" letter-spacing="0.5">60</text></g>
<line x1="72.2" y1="243.5" x2="164" y2="243.5" stroke="#2e2e2e" stroke-width="0.78"/>
<line x1="72.2" y1="360.5" x2="164" y2="360.5" stroke="#2e2e2e" stroke-width="0.78"/>
<line x1="75.5" y1="243" x2="75.5" y2="360.1" stroke="#2e2e2e" stroke-width="0.91"/>
<path d="M75.6 243L76.85 250L74.35 250Z" fill="#2e2e2e"/>
<path d="M75.6 360.1L74.35 353.1L76.85 353.1Z" fill="#2e2e2e"/>
<g transform="translate(73.4 301.3) rotate(-90)" fill="#2a2a2a"><text x="-6.09" y="0" font-size="10.5" letter-spacing="0.5">60</text></g>
<line x1="87.9" y1="252.5" x2="183.3" y2="252.5" stroke="#2e2e2e" stroke-width="0.78"/>
<line x1="87.9" y1="350.5" x2="183.3" y2="350.5" stroke="#2e2e2e" stroke-width="0.78"/>
<line x1="91.5" y1="252.3" x2="91.5" y2="350.3" stroke="#2e2e2e" stroke-width="0.91"/>
<path d="M91.1 252.3L92.35 259.3L89.85 259.3Z" fill="#2e2e2e"/>
<path d="M91.1 350.3L89.85 343.3L92.35 343.3Z" fill="#2e2e2e"/>
<g transform="translate(88.9 301.3) rotate(-90)" fill="#2a2a2a"><text x="-6.09" y="0" font-size="10.5" letter-spacing="0.5">50</text></g>
<line x1="260.3" y1="252.5" x2="281.3" y2="252.5" stroke="#2e2e2e" stroke-width="0.78"/>
<line x1="260.3" y1="350.5" x2="281.3" y2="350.5" stroke="#2e2e2e" stroke-width="0.78"/>
<line x1="172.5" y1="241.8" x2="172.5" y2="262.8" stroke="#2e2e2e" stroke-width="0.78"/>
<line x1="270.5" y1="241.8" x2="270.5" y2="262.8" stroke="#2e2e2e" stroke-width="0.78"/>
<rect x="529.4" y="238" width="19.1" height="116.7" fill="#e7e8ea" stroke="#262626" stroke-width="1.49"/>
<rect x="624.4" y="238" width="21" height="116.7" fill="#e7e8ea" stroke="#262626" stroke-width="1.49"/>
<rect x="548.5" y="160" width="77.3" height="272.6" fill="#e7e8ea" stroke="#262626" stroke-width="1.61"/>
<line x1="627.5" y1="179.5" x2="627.5" y2="433.1" stroke="#262626" stroke-width="1.04"/>
<rect x="517.3" y="286.6" width="25.4" height="19.4" fill="#e7e8ea" stroke="#262626" stroke-width="1.15"/>
<path d="M470.2 284.7L490 284.7L490 286.6L509 286.6L509 284.7L517.3 284.7L517.3 307.9L509 307.9L509 306L490 306L490 307.9L470.2 307.9Z" fill="#e7e8ea" stroke="#262626" stroke-width="1.15" stroke-linejoin="miter"/>
<line x1="470.2" y1="284.7" x2="470.2" y2="307.9" stroke="#262626" stroke-width="1.72"/>
<line x1="471.4" y1="284.6" x2="482.4" y2="284.6" stroke="#262626" stroke-width="1.61"/>
<line x1="471.4" y1="308" x2="482.4" y2="308" stroke="#262626" stroke-width="1.61"/>
<line x1="518.4" y1="286.5" x2="525.4" y2="286.5" stroke="#262626" stroke-width="1.61"/>
<path d="M542.7 292.3H548.5M542.7 300.3H548.5" fill="none" stroke="#262626" stroke-width="1.04"/>
<path d="M471.6 290.6l2.53 -0.6M475.21 290.6l2.53 -0.6M478.83 290.6l2.53 -0.6M482.44 290.6l2.53 -0.6M486.06 290.6l2.53 -0.6M489.67 290.6l2.53 -0.6M493.29 290.6l2.53 -0.6" fill="none" stroke="#262626" stroke-width="1.2"/>
<path d="M471.6 292.4l2.53 -0.6M475.21 292.4l2.53 -0.6M478.83 292.4l2.53 -0.6M482.44 292.4l2.53 -0.6M486.06 292.4l2.53 -0.6M489.67 292.4l2.53 -0.6M493.29 292.4l2.53 -0.6" fill="none" stroke="#262626" stroke-width="1.2"/>
<path d="M471.6 300.8l2.53 -0.6M475.21 300.8l2.53 -0.6M478.83 300.8l2.53 -0.6M482.44 300.8l2.53 -0.6M486.06 300.8l2.53 -0.6M489.67 300.8l2.53 -0.6M493.29 300.8l2.53 -0.6" fill="none" stroke="#262626" stroke-width="1.2"/>
<path d="M471.6 302.6l2.53 -0.6M475.21 302.6l2.53 -0.6M478.83 302.6l2.53 -0.6M482.44 302.6l2.53 -0.6M486.06 302.6l2.53 -0.6M489.67 302.6l2.53 -0.6M493.29 302.6l2.53 -0.6" fill="none" stroke="#262626" stroke-width="1.2"/>
<path d="M496.9 290.4Q499.7 293.3 500 296.3Q499.7 299.3 496.9 302.2" fill="none" stroke="#2e2e2e" stroke-width="0.91"/>
<line x1="467.6" y1="296.5" x2="555.9" y2="296.5" stroke="#2e2e2e" stroke-width="0.78" stroke-dasharray="7 1.6 1.6 1.6"/>
<line x1="499.5" y1="262.5" x2="499.5" y2="316.3" stroke="#2e2e2e" stroke-width="0.91"/>
<path d="M499.3 286.6L498.05 279.6L500.55 279.6Z" fill="#2e2e2e"/>
<path d="M499.3 306L500.55 313L498.05 313Z" fill="#2e2e2e"/>
<g transform="translate(497.3 269.7) rotate(-90)" fill="#2a2a2a"><text x="-6.09" y="0" font-size="10.5" letter-spacing="0.5">10</text></g>
<circle cx="562.9" cy="217.9" r="3.35" fill="none" stroke="#262626" stroke-width="1.24"/>
<line x1="555.9" y1="217.5" x2="569.9" y2="217.5" stroke="#262626" stroke-width="0.94"/>
<line x1="562.5" y1="210.9" x2="562.5" y2="224.9" stroke="#262626" stroke-width="0.94"/>
<circle cx="611.9" cy="217.9" r="3.35" fill="none" stroke="#262626" stroke-width="1.24"/>
<line x1="604.9" y1="217.5" x2="618.9" y2="217.5" stroke="#262626" stroke-width="0.94"/>
<line x1="611.5" y1="210.9" x2="611.5" y2="224.9" stroke="#262626" stroke-width="0.94"/>
<circle cx="562.9" cy="257.1" r="3.35" fill="none" stroke="#262626" stroke-width="1.24"/>
<line x1="555.9" y1="257.5" x2="569.9" y2="257.5" stroke="#262626" stroke-width="0.94"/>
<line x1="562.5" y1="250.1" x2="562.5" y2="264.1" stroke="#262626" stroke-width="0.94"/>
<circle cx="611.9" cy="257.1" r="3.35" fill="none" stroke="#262626" stroke-width="1.24"/>
<line x1="604.9" y1="257.5" x2="618.9" y2="257.5" stroke="#262626" stroke-width="0.94"/>
<line x1="611.5" y1="250.1" x2="611.5" y2="264.1" stroke="#262626" stroke-width="0.94"/>
<circle cx="562.9" cy="296.3" r="3.35" fill="none" stroke="#262626" stroke-width="1.24"/>
<line x1="555.9" y1="296.5" x2="569.9" y2="296.5" stroke="#262626" stroke-width="0.94"/>
<line x1="562.5" y1="289.3" x2="562.5" y2="303.3" stroke="#262626" stroke-width="0.94"/>
<circle cx="611.9" cy="296.3" r="3.35" fill="none" stroke="#262626" stroke-width="1.24"/>
<line x1="604.9" y1="296.5" x2="618.9" y2="296.5" stroke="#262626" stroke-width="0.94"/>
<line x1="611.5" y1="289.3" x2="611.5" y2="303.3" stroke="#262626" stroke-width="0.94"/>
<circle cx="562.9" cy="335.5" r="3.35" fill="none" stroke="#262626" stroke-width="1.24"/>
<line x1="555.9" y1="335.5" x2="569.9" y2="335.5" stroke="#262626" stroke-width="0.94"/>
<line x1="562.5" y1="328.5" x2="562.5" y2="342.5" stroke="#262626" stroke-width="0.94"/>
<circle cx="611.9" cy="335.5" r="3.35" fill="none" stroke="#262626" stroke-width="1.24"/>
<line x1="604.9" y1="335.5" x2="618.9" y2="335.5" stroke="#262626" stroke-width="0.94"/>
<line x1="611.5" y1="328.5" x2="611.5" y2="342.5" stroke="#262626" stroke-width="0.94"/>
<circle cx="562.9" cy="374.7" r="3.35" fill="none" stroke="#262626" stroke-width="1.24"/>
<line x1="555.9" y1="374.5" x2="569.9" y2="374.5" stroke="#262626" stroke-width="0.94"/>
<line x1="562.5" y1="367.7" x2="562.5" y2="381.7" stroke="#262626" stroke-width="0.94"/>
<circle cx="611.9" cy="374.7" r="3.35" fill="none" stroke="#262626" stroke-width="1.24"/>
<line x1="604.9" y1="374.5" x2="618.9" y2="374.5" stroke="#262626" stroke-width="0.94"/>
<line x1="611.5" y1="367.7" x2="611.5" y2="381.7" stroke="#262626" stroke-width="0.94"/>
<circle cx="538.2" cy="247.3" r="7.7" fill="none" stroke="#262626" stroke-width="0.91"/>
<circle cx="538.2" cy="247.3" r="4.4" fill="none" stroke="#262626" stroke-width="0.91"/>
<line x1="536" y1="247.5" x2="540.4" y2="247.5" stroke="#2e2e2e" stroke-width="0.65"/>
<line x1="538.5" y1="245.1" x2="538.5" y2="249.5" stroke="#2e2e2e" stroke-width="0.65"/>
<circle cx="538.2" cy="345.3" r="7.7" fill="none" stroke="#262626" stroke-width="0.91"/>
<circle cx="538.2" cy="345.3" r="4.4" fill="none" stroke="#262626" stroke-width="0.91"/>
<line x1="536" y1="345.5" x2="540.4" y2="345.5" stroke="#2e2e2e" stroke-width="0.65"/>
<line x1="538.5" y1="343.1" x2="538.5" y2="347.5" stroke="#2e2e2e" stroke-width="0.65"/>
<circle cx="636.2" cy="247.3" r="7.7" fill="none" stroke="#262626" stroke-width="0.91"/>
<circle cx="636.2" cy="247.3" r="4.4" fill="none" stroke="#262626" stroke-width="0.91"/>
<line x1="634" y1="247.5" x2="638.4" y2="247.5" stroke="#2e2e2e" stroke-width="0.65"/>
<line x1="636.5" y1="245.1" x2="636.5" y2="249.5" stroke="#2e2e2e" stroke-width="0.65"/>
<circle cx="636.2" cy="345.3" r="7.7" fill="none" stroke="#262626" stroke-width="0.91"/>
<circle cx="636.2" cy="345.3" r="4.4" fill="none" stroke="#262626" stroke-width="0.91"/>
<line x1="634" y1="345.5" x2="638.4" y2="345.5" stroke="#2e2e2e" stroke-width="0.65"/>
<line x1="636.5" y1="343.1" x2="636.5" y2="347.5" stroke="#2e2e2e" stroke-width="0.65"/>
<path d="M627.3 290Q629.7 294 629.8 299.7" fill="none" stroke="#262626" stroke-width="0.91"/>
<rect x="629.6" y="300" width="18.8" height="16" rx="1.6" fill="#e7e8ea" stroke="#262626" stroke-width="1.1"/>
<line x1="624.6" y1="308.5" x2="651.4" y2="308.5" stroke="#2e2e2e" stroke-width="0.91" stroke-dasharray="3.2 1.6"/>
<line x1="548.5" y1="128.1" x2="548.5" y2="160" stroke="#2e2e2e" stroke-width="0.78"/>
<line x1="625.5" y1="128.1" x2="625.5" y2="160" stroke="#2e2e2e" stroke-width="0.78"/>
<line x1="548.5" y1="130.5" x2="625.8" y2="130.5" stroke="#2e2e2e" stroke-width="0.91"/>
<path d="M548.5 130.7L555.5 129.45L555.5 131.95Z" fill="#2e2e2e"/>
<path d="M625.8 130.7L618.8 131.95L618.8 129.45Z" fill="#2e2e2e"/>
<g transform="translate(587.2 129.4)" fill="#2a2a2a"><text x="-6.09" y="0" font-size="10.5" letter-spacing="0.5">40</text></g>
<line x1="562.5" y1="142.3" x2="562.5" y2="217.9" stroke="#2e2e2e" stroke-width="0.78"/>
<line x1="611.5" y1="142.3" x2="611.5" y2="217.9" stroke="#2e2e2e" stroke-width="0.78"/>
<line x1="562.9" y1="144.5" x2="611.9" y2="144.5" stroke="#2e2e2e" stroke-width="0.91"/>
<path d="M562.9 144.9L569.9 143.65L569.9 146.15Z" fill="#2e2e2e"/>
<path d="M611.9 144.9L604.9 146.15L604.9 143.65Z" fill="#2e2e2e"/>
<g transform="translate(587.2 143.6)" fill="#2a2a2a"><text x="-6.09" y="0" font-size="10.5" letter-spacing="0.5">25</text></g>
<line x1="617.4" y1="217.5" x2="666.6" y2="217.5" stroke="#2e2e2e" stroke-width="0.78"/>
<line x1="617.4" y1="257.5" x2="666.6" y2="257.5" stroke="#2e2e2e" stroke-width="0.78"/>
<line x1="617.4" y1="296.5" x2="666.6" y2="296.5" stroke="#2e2e2e" stroke-width="0.78"/>
<line x1="617.4" y1="335.5" x2="666.6" y2="335.5" stroke="#2e2e2e" stroke-width="0.78"/>
<line x1="617.4" y1="374.5" x2="666.6" y2="374.5" stroke="#2e2e2e" stroke-width="0.78"/>
<line x1="663.5" y1="217.9" x2="663.5" y2="257.1" stroke="#2e2e2e" stroke-width="0.91"/>
<path d="M663.1 217.9L664.35 224.9L661.85 224.9Z" fill="#2e2e2e"/>
<path d="M663.1 257.1L661.85 250.1L664.35 250.1Z" fill="#2e2e2e"/>
<g transform="translate(661.3 237.5) rotate(-90)" fill="#2a2a2a"><text x="-6.09" y="0" font-size="10.5" letter-spacing="0.5">20</text></g>
<line x1="663.5" y1="257.1" x2="663.5" y2="296.3" stroke="#2e2e2e" stroke-width="0.91"/>
<path d="M663.1 257.1L664.35 264.1L661.85 264.1Z" fill="#2e2e2e"/>
<path d="M663.1 296.3L661.85 289.3L664.35 289.3Z" fill="#2e2e2e"/>
<g transform="translate(661.3 276.7) rotate(-90)" fill="#2a2a2a"><text x="-6.09" y="0" font-size="10.5" letter-spacing="0.5">20</text></g>
<line x1="663.5" y1="296.3" x2="663.5" y2="335.5" stroke="#2e2e2e" stroke-width="0.91"/>
<path d="M663.1 296.3L664.35 303.3L661.85 303.3Z" fill="#2e2e2e"/>
<path d="M663.1 335.5L661.85 328.5L664.35 328.5Z" fill="#2e2e2e"/>
<g transform="translate(661.3 315.9) rotate(-90)" fill="#2a2a2a"><text x="-6.09" y="0" font-size="10.5" letter-spacing="0.5">20</text></g>
<line x1="663.5" y1="335.5" x2="663.5" y2="374.7" stroke="#2e2e2e" stroke-width="0.91"/>
<path d="M663.1 335.5L664.35 342.5L661.85 342.5Z" fill="#2e2e2e"/>
<path d="M663.1 374.7L661.85 367.7L664.35 367.7Z" fill="#2e2e2e"/>
<g transform="translate(661.3 355.1) rotate(-90)" fill="#2a2a2a"><text x="-6.09" y="0" font-size="10.5" letter-spacing="0.5">20</text></g>
<line x1="625.8" y1="160.5" x2="682.4" y2="160.5" stroke="#2e2e2e" stroke-width="0.78"/>
<line x1="625.8" y1="432.5" x2="682.4" y2="432.5" stroke="#2e2e2e" stroke-width="0.78"/>
<line x1="679.5" y1="160" x2="679.5" y2="432.6" stroke="#2e2e2e" stroke-width="0.91"/>
<path d="M679.4 160L680.65 167L678.15 167Z" fill="#2e2e2e"/>
<path d="M679.4 432.6L678.15 425.6L680.65 425.6Z" fill="#2e2e2e"/>
<g transform="translate(677.5 296.3) rotate(-90)" fill="#2a2a2a"><text x="-9.26" y="0" font-size="10.5" letter-spacing="0.5">140</text></g>
<line x1="538.5" y1="334.3" x2="538.5" y2="450" stroke="#2e2e2e" stroke-width="0.78"/>
<line x1="636.5" y1="334.3" x2="636.5" y2="450" stroke="#2e2e2e" stroke-width="0.78"/>
<line x1="538.2" y1="447.5" x2="636.2" y2="447.5" stroke="#2e2e2e" stroke-width="0.91"/>
<path d="M538.2 447.6L545.2 446.35L545.2 448.85Z" fill="#2e2e2e"/>
<path d="M636.2 447.6L629.2 448.85L629.2 446.35Z" fill="#2e2e2e"/>
<g transform="translate(587.2 446.3)" fill="#2a2a2a"><text x="-6.09" y="0" font-size="10.5" letter-spacing="0.5">50</text></g>
<line x1="529.5" y1="354.7" x2="529.5" y2="463.6" stroke="#2e2e2e" stroke-width="0.78"/>
<line x1="645.5" y1="354.7" x2="645.5" y2="463.6" stroke="#2e2e2e" stroke-width="0.78"/>
<line x1="529.4" y1="461.5" x2="645.4" y2="461.5" stroke="#2e2e2e" stroke-width="0.91"/>
<path d="M529.4 461.2L536.4 459.95L536.4 462.45Z" fill="#2e2e2e"/>
<path d="M645.4 461.2L638.4 462.45L638.4 459.95Z" fill="#2e2e2e"/>
<g transform="translate(587.2 459.9)" fill="#2a2a2a"><text x="-6.09" y="0" font-size="10.5" letter-spacing="0.5">60</text></g>
<line x1="439" y1="238.5" x2="529.4" y2="238.5" stroke="#2e2e2e" stroke-width="0.78"/>
<line x1="439" y1="355.5" x2="529.4" y2="355.5" stroke="#2e2e2e" stroke-width="0.78"/>
<line x1="442.5" y1="238" x2="442.5" y2="355.1" stroke="#2e2e2e" stroke-width="0.91"/>
<path d="M442.4 238L443.65 245L441.15 245Z" fill="#2e2e2e"/>
<path d="M442.4 355.1L441.15 348.1L443.65 348.1Z" fill="#2e2e2e"/>
<g transform="translate(440.2 296.3) rotate(-90)" fill="#2a2a2a"><text x="-6.09" y="0" font-size="10.5" letter-spacing="0.5">60</text></g>
<line x1="453.3" y1="247.5" x2="548.7" y2="247.5" stroke="#2e2e2e" stroke-width="0.78"/>
<line x1="453.3" y1="345.5" x2="548.7" y2="345.5" stroke="#2e2e2e" stroke-width="0.78"/>
<line x1="456.5" y1="247.3" x2="456.5" y2="345.3" stroke="#2e2e2e" stroke-width="0.91"/>
<path d="M456.5 247.3L457.75 254.3L455.25 254.3Z" fill="#2e2e2e"/>
<path d="M456.5 345.3L455.25 338.3L457.75 338.3Z" fill="#2e2e2e"/>
<g transform="translate(454.3 296.3) rotate(-90)" fill="#2a2a2a"><text x="-6.09" y="0" font-size="10.5" letter-spacing="0.5">50</text></g>
<line x1="625.7" y1="247.5" x2="646.7" y2="247.5" stroke="#2e2e2e" stroke-width="0.78"/>
<line x1="625.7" y1="345.5" x2="646.7" y2="345.5" stroke="#2e2e2e" stroke-width="0.78"/>
<line x1="538.5" y1="236.8" x2="538.5" y2="257.8" stroke="#2e2e2e" stroke-width="0.78"/>
<line x1="636.5" y1="236.8" x2="636.5" y2="257.8" stroke="#2e2e2e" stroke-width="0.78"/>
<line x1="262.2" y1="199.5" x2="313.3" y2="199.5" stroke="#2e2e2e" stroke-width="0.91"/>
<line x1="262.2" y1="199.6" x2="237.3" y2="235.3" stroke="#2e2e2e" stroke-width="0.91"/>
<path d="M248.65 220.14L250.87 214.42L253.04 215.85Z" fill="#2e2e2e"/>
<path d="M244.35 226.66L242.13 232.38L239.96 230.95Z" fill="#2e2e2e"/>
<g transform="translate(263.6 197.2)" fill="#2a2a2a" aria-label="10-M4深5"><text x="0" y="0" font-size="10.5" letter-spacing="0.5">10-M4</text><text x="32.26" y="0" font-size="11.3">深</text><text x="43.31" y="0" font-size="10.5" letter-spacing="0.5">5</text></g>
<line x1="86.9" y1="378.5" x2="154" y2="378.5" stroke="#2e2e2e" stroke-width="0.91"/>
<line x1="154" y1="378.4" x2="180.8" y2="338.1" stroke="#2e2e2e" stroke-width="0.91"/>
<path d="M177.07 343.89L179.31 338.17L181.47 339.61Z" fill="#2e2e2e"/>
<g transform="translate(93.6 376.4)" fill="#2a2a2a" aria-label="4-Ø4.5通孔"><text x="0" y="0" font-size="10.5" letter-spacing="0.5">4-Ø4.5</text><text x="35.1" y="0" font-size="11.3" letter-spacing="-0.25">通孔</text></g>
<g transform="translate(89.9 391)" fill="#2a2a2a" aria-label="沉孔Ø8深4.5"><text x="0" y="0" font-size="11.3" letter-spacing="-0.25">沉孔</text><text x="22.1" y="0" font-size="10.5" letter-spacing="0.5">Ø8</text><text x="37.11" y="0" font-size="11.3">深</text><text x="48.16" y="0" font-size="10.5" letter-spacing="0.5">4.5</text></g>
<line x1="491.8" y1="201.5" x2="541.5" y2="201.5" stroke="#2e2e2e" stroke-width="0.91"/>
<line x1="541.5" y1="201.7" x2="574.5" y2="226.8" stroke="#2e2e2e" stroke-width="0.91"/>
<path d="M559.79 215.59L554.23 213L555.8 210.93Z" fill="#2e2e2e"/>
<path d="M566.01 220.31L571.57 222.9L570 224.97Z" fill="#2e2e2e"/>
<g transform="translate(493 199.9)" fill="#2a2a2a" aria-label="10-M4深5"><text x="0" y="0" font-size="10.5" letter-spacing="0.5">10-M4</text><text x="32.26" y="0" font-size="11.3">深</text><text x="43.31" y="0" font-size="10.5" letter-spacing="0.5">5</text></g>
<line x1="445.4" y1="383.5" x2="511.7" y2="383.5" stroke="#2e2e2e" stroke-width="0.91"/>
<line x1="511.7" y1="383.6" x2="547.2" y2="332.8" stroke="#2e2e2e" stroke-width="0.91"/>
<path d="M542.62 338.99L545 333.34L547.13 334.83Z" fill="#2e2e2e"/>
<g transform="translate(451.8 381.6)" fill="#2a2a2a" aria-label="4-Ø4.5通孔"><text x="0" y="0" font-size="10.5" letter-spacing="0.5">4-Ø4.5</text><text x="35.1" y="0" font-size="11.3" letter-spacing="-0.25">通孔</text></g>
<g transform="translate(448.8 396.6)" fill="#2a2a2a" aria-label="沉孔Ø8深4.5"><text x="0" y="0" font-size="11.3" letter-spacing="-0.25">沉孔</text><text x="22.1" y="0" font-size="10.5" letter-spacing="0.5">Ø8</text><text x="37.11" y="0" font-size="11.3">深</text><text x="48.16" y="0" font-size="10.5" letter-spacing="0.5">4.5</text></g>
<rect x="11" y="480.2" width="9.2" height="10" rx="2" fill="#fff" stroke="#f18410" stroke-width="1.1"/>
<path d="M14.8 482.2h1.6l-0.3 3.9h-1zM14.9 487h1.4v1.4h-1.4z" fill="#f18410"/>
<g transform="translate(23.3 489.8)" fill="#2a2a2a" aria-label="旋钮加长方法：客户自制的加长旋钮通过旋钮加长柄的M6深度14螺纹与滑台连接，为防止松动，建议螺纹处涂上螺纹胶，"><text x="0" y="0" font-size="11.5" letter-spacing="0.17">旋钮加长方法：客户自制的加长旋钮通过旋钮加长柄的</text><text x="280.22" y="0" font-size="10.8" letter-spacing="0.45">M6</text><text x="296.13" y="0" font-size="11.5" letter-spacing="0.17">深度</text><text x="319.48" y="0" font-size="10.8" letter-spacing="0.45">14</text><text x="332.39" y="0" font-size="11.5" letter-spacing="0.17">螺纹与滑台连接，为防止松动，建议螺纹处涂上螺纹胶，</text></g>
<g transform="translate(23.5 504.4)" fill="#2a2a2a" aria-label="然后锁紧紧定螺钉。(客户可以选用我司的标准把手，实现快速简便的加长旋钮，把手规格详见官网)"><text x="0" y="0" font-size="11.5" letter-spacing="0.17">然后锁紧紧定螺钉。</text><text x="105.08" y="0" font-size="10.8" letter-spacing="0.45">(</text><text x="109.13" y="0" font-size="11.5" letter-spacing="0.17">客户可以选用我司的标准把手，实现快速简便的加长旋钮，把手规格详见官网</text><text x="506.11" y="0" font-size="10.8" letter-spacing="0.45">)</text></g>
<path d="M703.1 471.2L727.9 467.2V491L703.1 486.9Z" fill="none" stroke="#262626" stroke-width="1.15"/>
<line x1="699.2" y1="479.5" x2="730.8" y2="479.5" stroke="#2e2e2e" stroke-width="0.91" stroke-dasharray="7 1.5 1.5 1.5"/>
<circle cx="766.8" cy="479.2" r="12.1" fill="none" stroke="#262626" stroke-width="1.17"/>
<circle cx="766.8" cy="479.2" r="7.2" fill="none" stroke="#262626" stroke-width="1.17"/>
<line x1="751.1" y1="479.5" x2="782.6" y2="479.5" stroke="#2e2e2e" stroke-width="0.91" stroke-dasharray="12.6 1.4 3.5 1.4 12.6"/>
<line x1="766.5" y1="463.9" x2="766.5" y2="494.7" stroke="#2e2e2e" stroke-width="0.91" stroke-dasharray="12.3 1.4 3.4 1.4 12.3"/>
<g transform="translate(689 505.3)" fill="#2a2a2a" aria-label="视角标准：第一视角"><text x="0" y="0" font-size="11.5" letter-spacing="0.17">视角标准：第一视角</text></g>
<rect x="4.3" y="541.6" width="50" height="51.6" rx="5.5" fill="#fff" stroke="#ff0a0a" stroke-width="1"/>
<path d="M13.8 561.2C13.2 556 14.5 551.5 19.5 549.3C26 546.6 35 546.6 41.5 549.3C46.5 551.5 47.8 556 47.2 561.2C46 562 44.5 561.9 43.5 561.3L38.2 558.4H22.8L17.5 561.3C16.5 561.9 15 562 13.8 561.2Z" fill="#ff0a0a"/>
<path d="M22.8 558.4H38.2L43.8 566.4V574.9H37.8L37.1 573.5H23.9L23.2 574.9H17.2V566.4Z" fill="#ff0a0a"/>
<rect x="17.2" y="566.9" width="26.6" height="2" fill="#e23434"/>
<ellipse cx="30.5" cy="558.9" rx="7.4" ry="5.4" fill="#2c0a0a"/>
<ellipse cx="30.5" cy="558" rx="6.7" ry="4.7" fill="#ff0a0a"/>
<ellipse cx="30.4" cy="557.5" rx="6.9" ry="4.7" fill="none" stroke="#fff" stroke-width="1.3" stroke-dasharray="1.1 1.5"/>
<ellipse cx="30.4" cy="557" rx="3.5" ry="2.5" fill="#ff0a0a" stroke="#4a1212" stroke-width="0.7"/>
<path d="M13.3 557.5C12 561 15.6 565 15.3 570.5C14 573.6 10.4 574.4 9.2 572C9.6 570 13.6 569.8 15.1 571.3" fill="none" stroke="#ff0a0a" stroke-width="0.55"/>
<g transform="translate(29.3 588)" fill="#ff0a0a" aria-label="选型示范"><text x="-19.8" y="0" font-size="9.9" font-weight="bold">选型示范</text></g>
<rect x="73.4" y="536.4" width="7.8" height="6.7" rx="1" fill="#f18410"/>
<g transform="translate(84.2 545)" fill="#f18410"><text x="0" y="0" font-size="13.6" letter-spacing="0.3" font-weight="bold">DJN11-60</text></g>
<rect x="73" y="550" width="164.8" height="26.1" fill="#e7e8ea"/>
<line x1="73" y1="550" x2="237.8" y2="550" stroke="#3a3a3a" stroke-width="1.72"/>
<line x1="73" y1="563.5" x2="178.5" y2="563.5" stroke="#3a3a3a" stroke-width="1.04"/>
<line x1="73" y1="576.1" x2="237.8" y2="576.1" stroke="#3a3a3a" stroke-width="1.38"/>
<line x1="73" y1="592.5" x2="237.8" y2="592.5" stroke="#3a3a3a" stroke-width="1.38"/>
<line x1="126.5" y1="563.2" x2="126.5" y2="592.5" stroke="#3a3a3a" stroke-width="1.17"/>
<line x1="178.5" y1="550" x2="178.5" y2="592.5" stroke="#3a3a3a" stroke-width="1.26"/>
<g transform="translate(130.8 560.6)" fill="#2a2a2a" aria-label="型号"><text x="-10.25" y="0" font-size="10.3" letter-spacing="-0.1">型号</text></g>
<g transform="translate(100.7 573.6)" fill="#2a2a2a" aria-label="代码"><text x="-10.25" y="0" font-size="10.3" letter-spacing="-0.1">代码</text></g>
<g transform="translate(152.2 573.6)" fill="#2a2a2a" aria-label="规格"><text x="-10.25" y="0" font-size="10.3" letter-spacing="-0.1">规格</text></g>
<g transform="translate(205.9 568.2)" fill="#2a2a2a" aria-label="台面尺寸"><text x="-20.45" y="0" font-size="10.3" letter-spacing="-0.1">台面尺寸</text></g>
<g transform="translate(101.6 587.9)" fill="#f18410"><text x="-15.96" y="0" font-size="10" letter-spacing="0.2" font-weight="bold">DJN11</text></g>
<g transform="translate(151.9 587.9)" fill="#f18410"><text x="-5.98" y="0" font-size="10.3" letter-spacing="0.5" font-weight="bold">60</text></g>
<g transform="translate(209.7 587.9)" fill="#f18410"><text x="-16.66" y="0" font-size="10.3" letter-spacing="1.1" font-weight="bold">40×60</text></g>
<rect x="5" y="611.8" width="792.8" height="46.8" fill="#e7e8ea"/>
<rect x="109.4" y="673.8" width="688.4" height="15.3" fill="#ece9d8"/>
<rect x="109.4" y="704.5" width="688.4" height="15.7" fill="#ece9d8"/>
<line x1="5" y1="611.8" x2="797.8" y2="611.8" stroke="#3a3a3a" stroke-width="1.61"/>
<line x1="5" y1="627.5" x2="177.6" y2="627.5" stroke="#3a3a3a" stroke-width="1.04"/>
<line x1="5" y1="658.6" x2="797.8" y2="658.6" stroke="#3a3a3a" stroke-width="1.26"/>
<line x1="5" y1="720.2" x2="797.8" y2="720.2" stroke="#3a3a3a" stroke-width="1.38"/>
<line x1="177.5" y1="611.8" x2="177.5" y2="720.2" stroke="#3a3a3a" stroke-width="1.17"/>
<line x1="260.5" y1="611.8" x2="260.5" y2="720.2" stroke="#3a3a3a" stroke-width="1.17"/>
<line x1="344.5" y1="611.8" x2="344.5" y2="720.2" stroke="#3a3a3a" stroke-width="1.17"/>
<line x1="437.5" y1="611.8" x2="437.5" y2="720.2" stroke="#3a3a3a" stroke-width="1.17"/>
<line x1="531.5" y1="611.8" x2="531.5" y2="720.2" stroke="#3a3a3a" stroke-width="1.17"/>
<line x1="626.5" y1="611.8" x2="626.5" y2="720.2" stroke="#3a3a3a" stroke-width="1.17"/>
<line x1="699.5" y1="611.8" x2="699.5" y2="720.2" stroke="#3a3a3a" stroke-width="1.17"/>
<line x1="109.5" y1="627.6" x2="109.5" y2="720.2" stroke="#3a3a3a" stroke-width="1.17"/>
<line x1="109.4" y1="673.5" x2="344.3" y2="673.5" stroke="#3a3a3a" stroke-width="1.04"/>
<line x1="699" y1="673.5" x2="797.8" y2="673.5" stroke="#3a3a3a" stroke-width="1.04"/>
<line x1="109.4" y1="689.5" x2="344.3" y2="689.5" stroke="#3a3a3a" stroke-width="1.04"/>
<line x1="699" y1="689.5" x2="797.8" y2="689.5" stroke="#3a3a3a" stroke-width="1.04"/>
<line x1="109.4" y1="704.5" x2="344.3" y2="704.5" stroke="#3a3a3a" stroke-width="1.04"/>
<line x1="699" y1="704.5" x2="797.8" y2="704.5" stroke="#3a3a3a" stroke-width="1.04"/>
<line x1="626" y1="673.5" x2="699" y2="673.5" stroke="#3a3a3a" stroke-width="1.04"/>
<g transform="translate(90.8 624.1)" fill="#2a2a2a" aria-label="型号"><text x="-11.7" y="0" font-size="11.5" letter-spacing="0.4">型号</text></g>
<g transform="translate(57.3 647.2)" fill="#2a2a2a" aria-label="代码"><text x="-11.7" y="0" font-size="11.5" letter-spacing="0.4">代码</text></g>
<g transform="translate(142.6 647.2)" fill="#2a2a2a" aria-label="规格"><text x="-11.7" y="0" font-size="11.5" letter-spacing="0.4">规格</text></g>
<g transform="translate(219.15 631.4)" fill="#2a2a2a" aria-label="台面尺寸"><text x="-23.6" y="0" font-size="11.5" letter-spacing="0.4">台面尺寸</text></g>
<g transform="translate(219.15 645.8)" fill="#2a2a2a"><text x="-14.33" y="0" font-size="11" letter-spacing="1">(mm)</text></g>
<g transform="translate(302.5 631.5)" fill="#2a2a2a" aria-label="行程"><text x="-11.7" y="0" font-size="11.5" letter-spacing="0.4">行程</text></g>
<g transform="translate(302.5 645.8)" fill="#2a2a2a"><text x="-14.33" y="0" font-size="11" letter-spacing="1">(mm)</text></g>
<g transform="translate(391.1 626.6)" fill="#2a2a2a" aria-label="标尺刻度"><text x="-23.6" y="0" font-size="11.5" letter-spacing="0.4">标尺刻度</text></g>
<g transform="translate(391.1 639.6)" fill="#2a2a2a" aria-label="最小读取量"><text x="-29.55" y="0" font-size="11.5" letter-spacing="0.4">最小读取量</text></g>
<g transform="translate(391.1 651.4)" fill="#2a2a2a"><text x="-12.91" y="0" font-size="11" letter-spacing="1">(μm)</text></g>
<g transform="translate(484.85 626.6)" fill="#2a2a2a" aria-label="移动精度"><text x="-23.6" y="0" font-size="11.5" letter-spacing="0.4">移动精度</text></g>
<g transform="translate(484.85 639.6)" fill="#2a2a2a" aria-label="(直线度)"><text x="-22.01" y="0" font-size="11" letter-spacing="1">(</text><text x="-17.35" y="0" font-size="11.5" letter-spacing="0.4">直线度</text><text x="18.35" y="0" font-size="11" letter-spacing="1">)</text></g>
<g transform="translate(484.85 651.4)" fill="#2a2a2a"><text x="-12.91" y="0" font-size="11" letter-spacing="1">(μm)</text></g>
<g transform="translate(578.9 626.6)" fill="#2a2a2a" aria-label="旋钮旋转"><text x="-23.6" y="0" font-size="11.5" letter-spacing="0.4">旋钮旋转</text></g>
<g transform="translate(578.9 639.6)" fill="#2a2a2a" aria-label="1圈移动量"><text x="-27.16" y="0" font-size="11" letter-spacing="1">1</text><text x="-20.04" y="0" font-size="11.5" letter-spacing="0.4">圈移动量</text></g>
<g transform="translate(578.9 651.4)" fill="#2a2a2a"><text x="-14.33" y="0" font-size="11" letter-spacing="1">(mm)</text></g>
<g transform="translate(662.5 633)" fill="#2a2a2a" aria-label="水平耐负载"><text x="-29.55" y="0" font-size="11.5" letter-spacing="0.4">水平耐负载</text></g>
<g transform="translate(662.5 645.3)" fill="#2a2a2a"><text x="-8.64" y="0" font-size="11" letter-spacing="1">(N)</text></g>
<g transform="translate(748.4 633)" fill="#2a2a2a" aria-label="主体重量"><text x="-23.6" y="0" font-size="11.5" letter-spacing="0.4">主体重量</text></g>
<g transform="translate(748.4 645.3)" fill="#2a2a2a"><text x="-11.89" y="0" font-size="11" letter-spacing="1">(Kg)</text></g>
<g transform="translate(55.3 689.1)" fill="#f18410"><text x="-20.1" y="0" font-size="12.4" letter-spacing="0.4" font-weight="bold">DJN11</text></g>
<g transform="translate(153.9 670.1)" fill="#f18410"><text x="-12.59" y="0" font-size="10.6" letter-spacing="0.8" font-weight="bold">40</text></g>
<g transform="translate(199.7 670.1)" fill="#2a2a2a"><text x="0" y="0" font-size="10.8" letter-spacing="0.75">25×42</text></g>
<g transform="translate(302.7 670.1)" fill="#2a2a2a"><text x="-9.72" y="0" font-size="10.8" letter-spacing="0.75">±12</text></g>
<g transform="translate(737.4 670.1)" fill="#2a2a2a"><text x="0" y="0" font-size="10.8" letter-spacing="0.75">0.17</text></g>
<g transform="translate(153.9 685.35)" fill="#f18410"><text x="-12.59" y="0" font-size="10.6" letter-spacing="0.8" font-weight="bold">60</text></g>
<g transform="translate(199.7 685.35)" fill="#2a2a2a"><text x="0" y="0" font-size="10.8" letter-spacing="0.75">40×60</text></g>
<g transform="translate(302.7 685.35)" fill="#2a2a2a"><text x="-9.72" y="0" font-size="10.8" letter-spacing="0.75">±21</text></g>
<g transform="translate(737.4 685.35)" fill="#2a2a2a"><text x="0" y="0" font-size="10.8" letter-spacing="0.75">0.29</text></g>
<g transform="translate(153.9 700.7)" fill="#f18410"><text x="-12.59" y="0" font-size="10.6" letter-spacing="0.8" font-weight="bold">90</text></g>
<g transform="translate(199.7 700.7)" fill="#2a2a2a"><text x="0" y="0" font-size="10.8" letter-spacing="0.75">40×90</text></g>
<g transform="translate(302.7 700.7)" fill="#2a2a2a"><text x="-9.72" y="0" font-size="10.8" letter-spacing="0.75">±35</text></g>
<g transform="translate(737.4 700.7)" fill="#2a2a2a"><text x="0" y="0" font-size="10.8" letter-spacing="0.75">0.4</text></g>
<g transform="translate(153.9 716.25)" fill="#f18410"><text x="-19.29" y="0" font-size="10.6" letter-spacing="0.8" font-weight="bold">140</text></g>
<g transform="translate(199.7 716.25)" fill="#2a2a2a"><text x="0" y="0" font-size="10.8" letter-spacing="0.75">40×140</text></g>
<g transform="translate(302.7 716.25)" fill="#2a2a2a"><text x="-9.72" y="0" font-size="10.8" letter-spacing="0.75">±60</text></g>
<g transform="translate(737.4 716.25)" fill="#2a2a2a"><text x="0" y="0" font-size="10.8" letter-spacing="0.75">0.56</text></g>
<g transform="translate(391.7 693.5)" fill="#2a2a2a"><text x="-8.26" y="0" font-size="10.8" letter-spacing="0.75">0.1</text></g>
<g transform="translate(485.5 693.5)" fill="#2a2a2a"><text x="-6.38" y="0" font-size="10.8" letter-spacing="0.75">30</text></g>
<g transform="translate(578.7 693.5)" fill="#2a2a2a"><text x="-6.38" y="0" font-size="10.8" letter-spacing="0.75">18</text></g>
<g transform="translate(662.5 670)" fill="#2a2a2a"><text x="-11.63" y="0" font-size="10.8" letter-spacing="0.75">29.4</text></g>
<g transform="translate(662.5 701.2)" fill="#2a2a2a"><text x="-11.63" y="0" font-size="10.8" letter-spacing="0.75">39.2</text></g>
</svg>
</body></html>
